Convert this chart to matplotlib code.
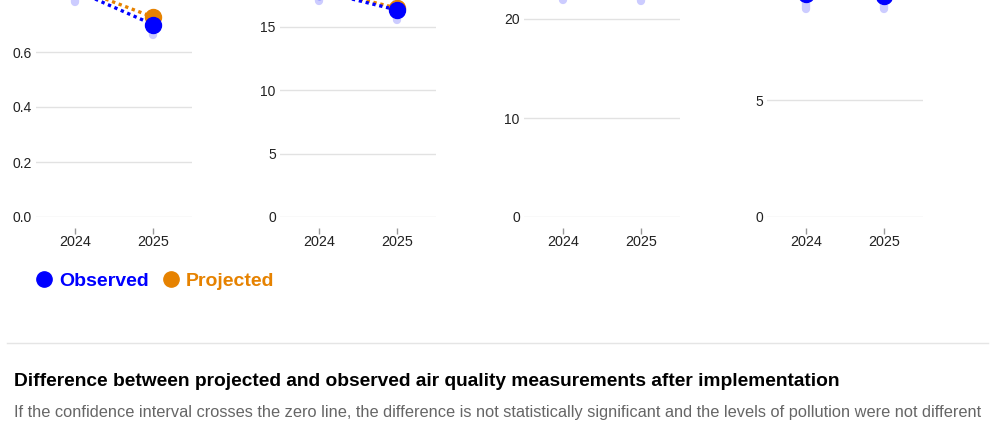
import matplotlib
matplotlib.use('Agg')
import matplotlib.pyplot as plt
from matplotlib.lines import Line2D

plt.rcParams['font.family'] = ['Liberation Sans', 'DejaVu Sans']

# --- data (upper part of the chart is cut off) ---
years = [2024, 2025]

obs_1 = [0.825, 0.70]
proj_1 = [0.835, 0.727]
ci_lo_1 = [0.783, 0.662]
ci_hi_1 = [0.86, 0.74]

obs_2 = [17.8, 16.3]
proj_2 = [17.95, 16.45]
ci_lo_2 = [17.0, 15.5]
ci_hi_2 = [18.4, 17.1]

obs_3 = [24.6, 24.2]
proj_3 = [24.9, 24.5]
ci_lo_3 = [21.95, 21.85]
ci_hi_3 = [27.0, 26.5]

obs_4 = [9.53, 9.44]
proj_4 = [9.9, 9.8]
ci_lo_4 = [8.9, 8.88]
ci_hi_4 = [10.2, 10.0]

# only the gridlines that fall inside the visible crop
ticks_1 = [0, 0.2, 0.4, 0.6]
ticks_2 = [0, 5, 10, 15]
ticks_3 = [0, 10, 20]
ticks_4 = [0, 5]

panels = [
    (obs_1, proj_1, ci_lo_1, ci_hi_1, 1.0, ticks_1, '{:.1f}'),
    (obs_2, proj_2, ci_lo_2, ci_hi_2, 20, ticks_2, '{:.0f}'),
    (obs_3, proj_3, ci_lo_3, ci_hi_3, 30, ticks_3, '{:.0f}'),
    (obs_4, proj_4, ci_lo_4, ci_hi_4, 12, ticks_4, '{:.0f}'),
]
# pixels per data unit for each panel (axes share a baseline, top is clipped)
px_per_unit = [275, 12.7, 9.9, 23.4]
lefts_px = [36, 280, 524, 767]

BLUE = '#0000FF'
ORANGE = '#E68200'
CI = '#CCCCFF'
GRID = '#E2E2E2'

W, H = 1000, 425
fig = plt.figure(figsize=(W / 100, H / 100), dpi=100)

base_px = 217
for (obs, proj, lo, hi, ymax, ticks, fmt), ppu, left in zip(panels, px_per_unit, lefts_px):
    h_px = ymax * ppu
    ax = fig.add_axes([left / W, 1 - base_px / H, 156 / W, h_px / H])
    ax.set_xlim(2023.5, 2025.5)
    ax.set_ylim(0, ymax)

    for x, a, b in zip(years, lo, hi):
        ax.plot([x, x], [a, b], color=CI, lw=6, solid_capstyle='round', zorder=1)
    ax.plot(years, proj, color=ORANGE, lw=2.4, ls=(0, (1, 1.1)), zorder=2)
    ax.plot(years, obs, color=BLUE, lw=2.4, ls=(0, (1, 1.1)), zorder=3)
    ax.plot(years, proj, 'o', color=ORANGE, ms=11.5, zorder=4)
    ax.plot(years, obs, 'o', color=BLUE, ms=11.5, zorder=5)

    ax.set_yticks(ticks)
    ax.set_yticklabels([fmt.format(t) for t in ticks])
    ax.set_xticks(years)
    ax.set_xticklabels([str(y) for y in years])
    ax.grid(axis='y', color=GRID, lw=1)
    ax.set_axisbelow(True)
    for s in ax.spines.values():
        s.set_visible(False)
    ax.spines['bottom'].set_position(('outward', 8))
    ax.tick_params(axis='y', length=0, pad=3, labelsize=10, labelcolor='#222222')
    ax.tick_params(axis='x', length=4, width=1, color='#999999', pad=1.2,
                   labelsize=10.4, labelcolor='#222222')

handles = [
    Line2D([], [], marker='o', ls='', color=BLUE, ms=11),
    Line2D([], [], marker='o', ls='', color=ORANGE, ms=11),
]
leg = fig.legend(handles, ['Observed', 'Projected'], loc='center left',
                 bbox_to_anchor=(0.018, 1 - 281 / H), ncol=2, frameon=False,
                 handlelength=0.9, handletextpad=0.3, columnspacing=0.7,
                 prop={'weight': 'bold', 'size': 14})
for t, c in zip(leg.get_texts(), [BLUE, ORANGE]):
    t.set_color(c)

fig.add_artist(Line2D([7 / W, 988 / W], [1 - 343 / H, 1 - 343 / H],
                      color='#E5E5E5', lw=1))

fig.text(14 / W, 1 - 381 / H,
         'Difference between projected and observed air quality measurements after implementation',
         fontsize=13.8, fontweight='bold', color='#000000', va='center', ha='left')
fig.text(14 / W, 1 - 412 / H,
         'If the confidence interval crosses the zero line, the difference is not statistically '
         'significant and the levels of pollution were not different',
         fontsize=11.75, color='#666666', va='center', ha='left')

fig.savefig('out.png', dpi=100)
